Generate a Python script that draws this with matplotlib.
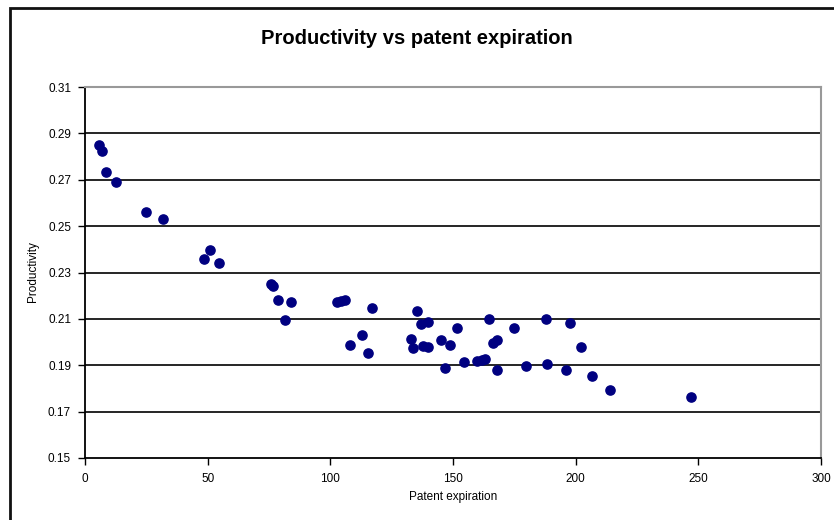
import matplotlib.pyplot as plt
from matplotlib.patches import Rectangle

# values
patent_expiration = [5.7, 6.8, 8.6, 12.5, 24.7, 31.9, 48.5, 51.0, 54.7,
                     75.9, 76.8, 78.8, 83.9, 81.5, 102.9, 104.4, 106.0,
                     117.1, 112.8, 108.0, 115.5, 135.2, 136.8, 139.7, 132.8,
                     133.6, 137.9, 140.0, 145.0, 148.8, 151.6, 146.9, 154.5,
                     159.7, 161.7, 163.0, 164.8, 166.4, 167.8, 167.8, 174.9,
                     179.8, 187.9, 188.5, 196.0, 197.7, 202.0, 206.8, 214.0,
                     247.0]
productivity = [0.2850, 0.2825, 0.2732, 0.2691, 0.2561, 0.2529, 0.2357, 0.2397, 0.2342,
                0.2249, 0.2243, 0.2181, 0.2174, 0.2095, 0.2171, 0.2177, 0.2181,
                0.2147, 0.2030, 0.1986, 0.1954, 0.2135, 0.2078, 0.2086, 0.2014,
                0.1973, 0.1983, 0.1980, 0.2009, 0.1987, 0.2061, 0.1887, 0.1915,
                0.1919, 0.1922, 0.1925, 0.2098, 0.1994, 0.2009, 0.1879, 0.2059,
                0.1896, 0.2099, 0.1905, 0.1878, 0.2081, 0.1980, 0.1855, 0.1793,
                0.1763]

x_ticks = [0, 50, 100, 150, 200, 250, 300]
y_ticks = [0.15, 0.17, 0.19, 0.21, 0.23, 0.25, 0.27, 0.29, 0.31]

plt.rcParams['font.family'] = ['Liberation Sans', 'DejaVu Sans']

fig = plt.figure(figsize=(8.34, 5.2), dpi=100)
# outer chart border
fig.patches.append(Rectangle((10 / 834, -0.05), 1.1, 1 - 8 / 520 + 0.05, transform=fig.transFigure,
                             fill=False, edgecolor='#111111', linewidth=2))

ax = fig.add_axes([85 / 834, 1 - 458 / 520, 736 / 834, 371 / 520])
ax.set_xlim(0, 300)
ax.set_ylim(0.15, 0.31)

for y in y_ticks[1:-1]:
    ax.axhline(y, color='black', linewidth=1.2, zorder=1)

ax.scatter(patent_expiration, productivity, s=44, marker='o', color='#000080', zorder=3)

ax.set_xticks(x_ticks)
ax.set_xticklabels([str(v) for v in x_ticks])
ax.set_yticks(y_ticks)
ax.set_yticklabels(['%.2f' % v for v in y_ticks])
ax.tick_params(axis='both', labelsize=8.5, direction='out', length=5, width=1, color='black')
ax.tick_params(axis='y', pad=5)
ax.tick_params(axis='x', pad=6)

ax.spines['left'].set_color('black')
ax.spines['bottom'].set_color('black')
ax.spines['left'].set_linewidth(1.3)
ax.spines['bottom'].set_linewidth(1.3)
ax.spines['top'].set_color('#999999')
ax.spines['right'].set_color('#999999')
ax.spines['top'].set_linewidth(1.5)
ax.spines['right'].set_linewidth(1.5)

fig.text(0.5, 1 - 38 / 520, 'Productivity vs patent expiration', ha='center', va='center',
         fontsize=14.5, fontweight='bold')
fig.text(453 / 834, 1 - 497 / 520, 'Patent expiration', ha='center', va='center', fontsize=8.5)
fig.text(33 / 834, 1 - 272 / 520, 'Productivity', ha='center', va='center', fontsize=8.5,
         rotation=90)

fig.savefig('out.png', dpi=100)
